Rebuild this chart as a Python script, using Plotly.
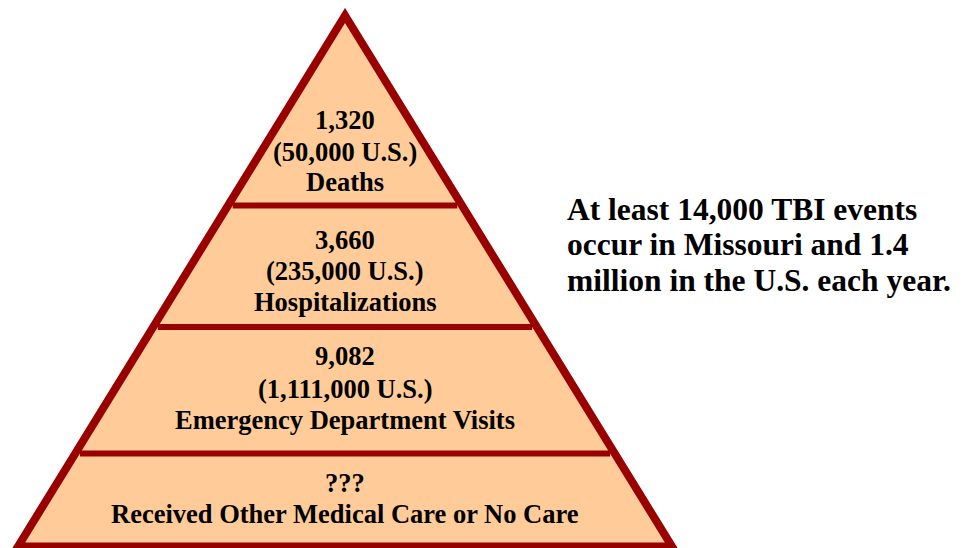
import plotly.graph_objects as go

# tier data, top of the pyramid first
tier_counts = ["1,320", "3,660", "9,082", "???"]
tier_us = ["(50,000 U.S.)", "(235,000 U.S.)", "(1,111,000 U.S.)", None]
tier_labels = ["Deaths", "Hospitalizations", "Emergency Department Visits",
               "Received Other Medical Care or No Care"]
side_note = ["At least 14,000 TBI events",
             "occur in Missouri and 1.4",
             "million in the U.S. each year."]

# pyramid geometry (pixel space, y down)
W, H = 966, 548
PAD = 8  # page body margin
apex = (345, 15.5)
base_y = 546.5
half_base = 327
divider_y = [205.5, 327, 453.5]
text_rows = [[120, 152, 182], [240, 271, 302], [356, 389, 420], [483, 514]]
note_rows = [209, 244, 280]
note_x = 565

RED = "#990000"
FILL = "#FFCC99"
FONT = "Liberation Serif"

slope = half_base / (base_y - apex[1])

fig = go.Figure()

shapes = [dict(
    type="path", xref="x", yref="y",
    path="M {0},{1} L {2},{3} L {4},{3} Z".format(
        apex[0], apex[1], apex[0] - half_base, base_y, apex[0] + half_base),
    fillcolor=FILL, line=dict(color=RED, width=8), layer="below",
)]

inset = 4.7
for y in divider_y:
    half = slope * (y - apex[1]) - inset
    shapes.append(dict(type="line", xref="x", yref="y",
                       x0=apex[0] - half, x1=apex[0] + half, y0=y, y1=y,
                       line=dict(color=RED, width=6)))

annotations = []
for i in range(len(tier_counts)):
    lines = [tier_counts[i]] + ([tier_us[i]] if tier_us[i] else []) + [tier_labels[i]]
    for txt, y in zip(lines, text_rows[i]):
        annotations.append(dict(x=apex[0], y=y, xref="x", yref="y", text="<b>%s</b>" % txt,
                                showarrow=False, xanchor="center", yanchor="middle",
                                font=dict(family=FONT, size=26.5, color="black")))

for txt, y in zip(side_note, note_rows):
    annotations.append(dict(x=note_x, y=y, xref="x", yref="y", text="<b>%s</b>" % txt,
                            showarrow=False, xanchor="left", yanchor="middle",
                            font=dict(family=FONT, size=31.5, color="black")))

fig.update_layout(
    width=W - PAD, height=H - PAD,
    margin=dict(l=0, r=0, t=0, b=0),
    paper_bgcolor="white", plot_bgcolor="white",
    xaxis=dict(range=[PAD, W], visible=False, fixedrange=True),
    yaxis=dict(range=[H, PAD], visible=False, fixedrange=True),
    shapes=shapes, annotations=annotations,
    showlegend=False,
)

fig.write_html("out.html", config={"displayModeBar": False})
